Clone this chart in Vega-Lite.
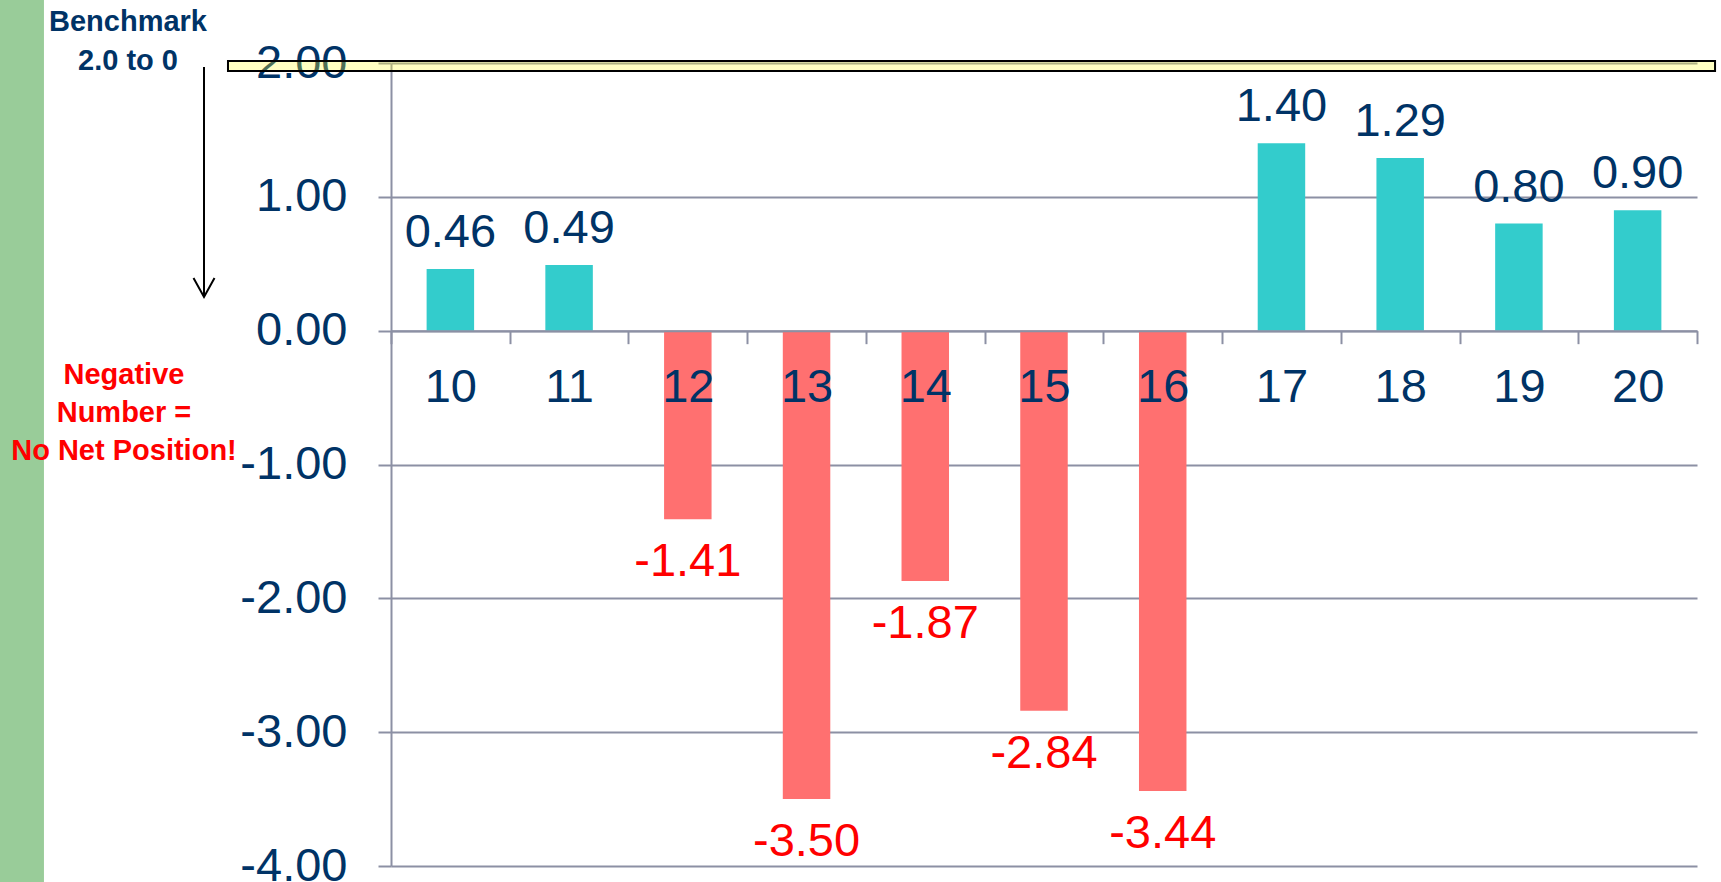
{
  "$schema": "https://vega.github.io/schema/vega-lite/v6.json",
  "width": 1306,
  "height": 803,
  "autosize": {"type": "none"},
  "padding": {"left": 391, "top": 63, "right": 24, "bottom": 16},
  "background": "white",
  "config": {
    "view": {"stroke": null},
    "font": "Liberation Sans",
    "locale": {"number": {"decimal": ".", "thousands": ",", "grouping": [3], "currency": ["$", ""], "minus": "-"}}
  },
  "data": {
    "values": [
      {"cat": "10", "value": 0.46},
      {"cat": "11", "value": 0.49},
      {"cat": "12", "value": -1.41},
      {"cat": "13", "value": -3.50},
      {"cat": "14", "value": -1.87},
      {"cat": "15", "value": -2.84},
      {"cat": "16", "value": -3.44},
      {"cat": "17", "value": 1.40},
      {"cat": "18", "value": 1.29},
      {"cat": "19", "value": 0.80},
      {"cat": "20", "value": 0.90}
    ]
  },
  "resolve": {"scale": {"x": "independent"}},
  "layer": [
    {
      "data": {"values": [{"k": "strip"}]},
      "mark": {"type": "rect", "color": "#99CC99"},
      "encoding": {
        "x": {"datum": -3.4, "type": "quantitative", "scale": {"domain": [0, 11], "nice": false, "zero": false}, "axis": null},
        "x2": {"datum": -2.923},
        "y": {"datum": 2.6, "type": "quantitative"},
        "y2": {"datum": -4.2}
      }
    },
    {
      "layer": [
        {
          "mark": {"type": "bar", "width": {"band": 0.4}},
          "encoding": {
            "x": {
              "field": "cat", "type": "nominal", "sort": null,
              "scale": {"paddingInner": 0, "paddingOuter": 0},
              "axis": {
                "title": null, "orient": "bottom", "offset": -535.33, "zindex": 1,
                "labelAngle": 0, "labelFontSize": 47, "labelColor": "#003366", "labelFont": "Liberation Sans",
                "labelBaseline": "alphabetic", "labelPadding": 58,
                "tickBand": "extent", "tickSize": 13, "tickColor": "#8C90A4", "tickWidth": 2,
                "domainColor": "#8C90A4", "domainWidth": 2, "grid": false
              }
            },
            "y": {
              "field": "value", "type": "quantitative",
              "scale": {"domain": [-4, 2], "nice": false},
              "axis": {
                "title": null, "values": [-4, -3, -2, -1, 0, 1, 2], "format": ".2f",
                "labelFontSize": 47, "labelColor": "#003366", "labelFont": "Liberation Sans",
                "labelPadding": 31, "labelBaseline": "middle", "labelFlush": false,
                "tickSize": 13, "tickColor": "#8C90A4", "tickWidth": 2,
                "domainColor": "#8C90A4", "domainWidth": 2,
                "grid": true, "gridColor": "#8C90A4", "gridWidth": 2
              }
            },
            "color": {"condition": {"test": "datum.value < 0", "value": "#FF7070"}, "value": "#33CCCC"}
          }
        },
        {
          "transform": [{"filter": "datum.value >= 0"}],
          "mark": {"type": "text", "baseline": "alphabetic", "dy": -22, "fontSize": 47, "color": "#003366"},
          "encoding": {
            "x": {"field": "cat", "type": "nominal", "sort": null},
            "y": {"field": "value", "type": "quantitative"},
            "text": {"field": "value", "type": "quantitative", "format": ".2f"}
          }
        },
        {
          "transform": [{"filter": "datum.value < 0"}],
          "mark": {"type": "text", "baseline": "alphabetic", "dy": 57, "fontSize": 47, "color": "#FF0000"},
          "encoding": {
            "x": {"field": "cat", "type": "nominal", "sort": null},
            "y": {"field": "value", "type": "quantitative"},
            "text": {"field": "value", "type": "quantitative", "format": ".2f"}
          }
        }
      ]
    },
    {
      "data": {"values": [{"t": "Benchmark\n2.0 to 0"}]},
      "mark": {"type": "text", "lineBreak": "\n", "lineHeight": 39, "fontSize": 29, "fontWeight": "bold", "color": "#003366", "align": "center", "baseline": "alphabetic"},
      "encoding": {
        "x": {"datum": -2.215, "type": "quantitative", "scale": {"domain": [0, 11], "nice": false, "zero": false}, "axis": null},
        "y": {"datum": 2.239, "type": "quantitative"},
        "text": {"field": "t"}
      }
    },
    {
      "data": {"values": [{"t": "Negative\nNumber =\nNo Net Position!"}]},
      "mark": {"type": "text", "lineBreak": "\n", "lineHeight": 38, "fontSize": 29, "fontWeight": "bold", "color": "#FF0000", "align": "center", "baseline": "alphabetic"},
      "encoding": {
        "x": {"datum": -2.249, "type": "quantitative", "scale": {"domain": [0, 11], "nice": false, "zero": false}, "axis": null},
        "y": {"datum": -0.399, "type": "quantitative"},
        "text": {"field": "t"}
      }
    },
    {
      "data": {"values": [{"k": "arrow"}]},
      "mark": {"type": "rule", "color": "#000000", "strokeWidth": 2},
      "encoding": {
        "x": {"datum": -1.575, "type": "quantitative", "scale": {"domain": [0, 11], "nice": false, "zero": false}, "axis": null},
        "y": {"datum": 1.97, "type": "quantitative"},
        "y2": {"datum": 0.2515}
      }
    },
    {
      "data": {"values": [{"k": "arrowhead"}]},
      "mark": {"type": "point", "shape": "M -1 -1.8 L 0 0 L 1 -1.8", "size": 441, "filled": false, "color": "#000000", "strokeWidth": 2, "opacity": 1},
      "encoding": {
        "x": {"datum": -1.575, "type": "quantitative", "scale": {"domain": [0, 11], "nice": false, "zero": false}, "axis": null},
        "y": {"datum": 0.2515, "type": "quantitative"}
      }
    },
    {
      "data": {"values": [{"k": "band"}]},
      "mark": {"type": "rect", "fill": "#FFFF33", "fillOpacity": 0.3, "stroke": "#000000", "strokeWidth": 2},
      "encoding": {
        "x": {"datum": -1.373, "type": "quantitative", "scale": {"domain": [0, 11], "nice": false, "zero": false}, "axis": null},
        "x2": {"datum": 11.152},
        "y": {"datum": 2.015, "type": "quantitative"},
        "y2": {"datum": 1.94}
      }
    }
  ]
}
